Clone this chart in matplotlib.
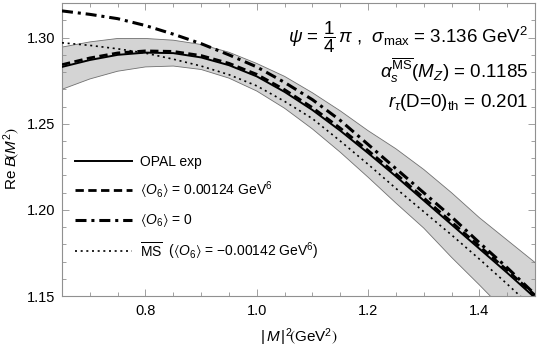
import matplotlib
matplotlib.use("Agg")
import matplotlib.pyplot as plt
from matplotlib.ticker import MultipleLocator

plt.rcParams['font.family'] = ['Liberation Sans', 'DejaVu Sans']
plt.rcParams['mathtext.fontset'] = 'custom'
plt.rcParams['mathtext.rm'] = 'Liberation Sans'
plt.rcParams['mathtext.it'] = 'Liberation Sans:italic'
plt.rcParams['mathtext.bf'] = 'Liberation Sans:bold'
plt.rcParams['mathtext.fallback'] = 'stixsans'

# Data
m2 = [0.65, 0.70, 0.75, 0.80, 0.85, 0.90, 0.95, 1.00, 1.05, 1.10,
      1.15, 1.20, 1.25, 1.30, 1.35, 1.40, 1.45, 1.50]
opal_exp = [1.2830, 1.2870, 1.2900, 1.2913, 1.2910, 1.2885, 1.2840, 1.2775, 1.2685, 1.2580,
            1.2460, 1.2330, 1.2195, 1.2055, 1.1915, 1.1775, 1.1635, 1.1490]
opal_upper = [1.2945, 1.2975, 1.2995, 1.2995, 1.2985, 1.2960, 1.2915, 1.2850, 1.2775, 1.2680,
              1.2575, 1.2460, 1.2355, 1.2235, 1.2100, 1.1955, 1.1825, 1.1695]
opal_lower = [1.2700, 1.2760, 1.2805, 1.2830, 1.2835, 1.2815, 1.2765, 1.2690, 1.2590, 1.2470,
              1.2335, 1.2190, 1.2040, 1.1895, 1.1725, 1.1565, 1.1400, 1.1235]
o6_fit = [1.2843, 1.2882, 1.2911, 1.2923, 1.2920, 1.2896, 1.2851, 1.2787, 1.2698, 1.2594,
          1.2475, 1.2345, 1.2210, 1.2070, 1.1930, 1.1790, 1.1650, 1.1505]
o6_zero = [1.3155, 1.3135, 1.3110, 1.3070, 1.3020, 1.2965, 1.2900, 1.2830, 1.2740, 1.2640,
           1.2520, 1.2380, 1.2240, 1.2100, 1.1960, 1.1810, 1.1665, 1.1510]
msbar = [1.2970, 1.2955, 1.2935, 1.2910, 1.2875, 1.2835, 1.2785, 1.2720, 1.2630, 1.2530,
         1.2400, 1.2265, 1.2125, 1.1990, 1.1855, 1.1715, 1.1570, 1.1420]

fig = plt.figure(figsize=(5.42, 3.5), dpi=100)
ax = fig.add_axes([0.1144, 0.154, 0.8727, 0.837])

ax.fill_between(m2, opal_lower, opal_upper, facecolor='#d4d4d4', edgecolor='none', zorder=1)
ax.plot(m2, opal_upper, color='#707070', lw=0.6, zorder=2)
ax.plot(m2, opal_lower, color='#707070', lw=0.6, zorder=2)

ax.plot(m2, opal_exp, color='black', lw=1.4, label='OPAL exp', zorder=4)
ax.plot(m2, o6_fit, color='black', lw=2.0, dashes=(3.0, 1.6),
        label=r'$\langle O_6\rangle$ = 0.00124 GeV$^6$', zorder=4)
ax.plot(m2, o6_zero, color='black', lw=2.2, dashes=(3.6, 1.6, 1.0, 1.6),
        label=r'$\langle O_6\rangle$ = 0', zorder=4)
ax.plot(m2, msbar, color='black', lw=1.2, dashes=(1.2, 2.2),
        label=r'$\overline{\mathrm{MS}}$  ($\langle O_6\rangle$ = $-$0.00142 GeV$^6$)', zorder=4)

ax.set_xlim(0.65, 1.5)
ax.set_ylim(1.15, 1.32)
ax.xaxis.set_major_locator(MultipleLocator(0.2))
ax.xaxis.set_minor_locator(MultipleLocator(0.05))
ax.yaxis.set_major_locator(MultipleLocator(0.05))
ax.yaxis.set_minor_locator(MultipleLocator(0.01))
ax.xaxis.set_major_formatter(matplotlib.ticker.FormatStrFormatter('%.1f'))
ax.yaxis.set_major_formatter(matplotlib.ticker.FormatStrFormatter('%.2f'))
ax.tick_params(which='both', direction='in', top=True, right=True, color='#909090',
               labelsize=10.5)
ax.tick_params(axis='y', pad=5)
ax.tick_params(axis='x', pad=6)
ax.tick_params(which='major', length=5, width=0.6)
ax.tick_params(which='minor', length=3, width=0.6)
for s in ax.spines.values():
    s.set_color('#909090')
    s.set_linewidth(0.8)

ax.set_xlabel(r'$|\,M\,|^2\!\left(\mathrm{GeV}^2\right)$', fontsize=11, labelpad=6)
ax.set_ylabel(r'Re $B\!\left(M^2\right)$', fontsize=11)
ax.yaxis.set_label_coords(-0.085, 0.47)

ax.text(0.985, 0.865, r'$\psi$ = $\dfrac{1}{4}\,\pi$ ,  $\sigma_{\max}$ = 3.136 GeV$^2$',
        transform=ax.transAxes, ha='right', va='baseline', fontsize=13.5)
ax.text(0.985, 0.745, r'$\alpha_s^{\overline{\mathrm{MS}}}(M_Z)$ = 0.1185',
        transform=ax.transAxes, ha='right', va='baseline', fontsize=13.5)
ax.text(0.985, 0.645, r'$r_\tau$(D=0)$_{\mathrm{th}}$ = 0.201',
        transform=ax.transAxes, ha='right', va='baseline', fontsize=13.5)

leg = ax.legend(loc='lower left', bbox_to_anchor=(0.016, 0.1), frameon=False,
                fontsize=10, handlelength=4.1, handletextpad=0.6, labelspacing=0.8,
                borderaxespad=0)

fig.savefig('out.png', dpi=100)
